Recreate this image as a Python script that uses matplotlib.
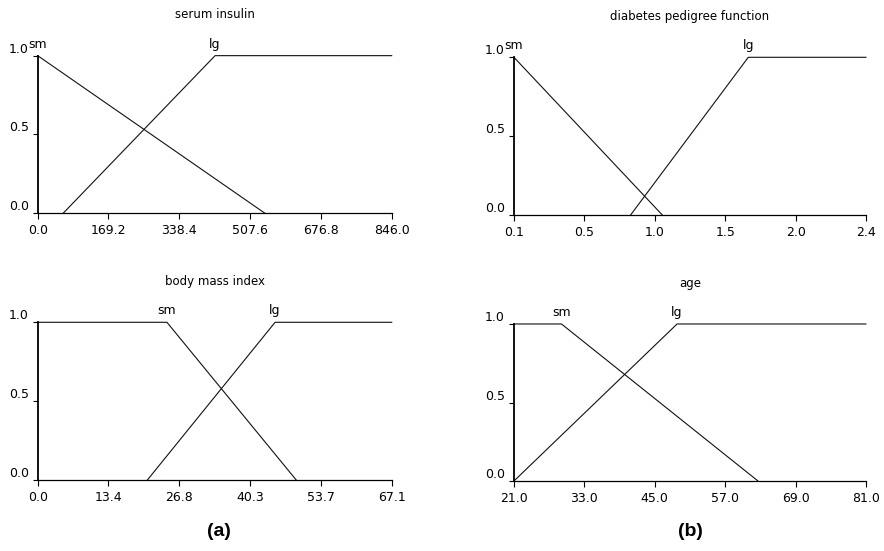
import matplotlib
matplotlib.use("Agg")
import matplotlib.pyplot as plt
import numpy as np

plt.rcParams['font.family'] = ['DejaVu Sans']

# membership functions
insulin_ticks = ["0.0", "169.2", "338.4", "507.6", "676.8", "846.0"]
insulin_sm_x = [0, 543]
insulin_sm_y = [1, 0]
insulin_lg_x = [61, 424, 846]
insulin_lg_y = [0, 1, 1]

dpf_ticks = ["0.1", "0.5", "1.0", "1.5", "2.0", "2.4"]
dpf_sm_x = [0.078, 1.065]
dpf_sm_y = [1, 0]
dpf_lg_x = [0.854, 1.637, 2.42]
dpf_lg_y = [0, 1, 1]

bmi_ticks = ["0.0", "13.4", "26.8", "40.3", "53.7", "67.1"]
bmi_sm_x = [0, 24.5, 49.0]
bmi_sm_y = [1, 1, 0]
bmi_lg_x = [20.8, 45.0, 67.1]
bmi_lg_y = [0, 1, 1]

age_ticks = ["21.0", "33.0", "45.0", "57.0", "69.0", "81.0"]
age_sm_x = [21, 29.1, 62.6]
age_sm_y = [1, 1, 0]
age_lg_x = [21, 48.8, 81]
age_lg_y = [0, 1, 1]

y_ticks = ["0.0", "0.5", "1.0"]


def panel(rect, title, lo, hi, ticks, sm_x, sm_y, lg_x, lg_y):
    ax = fig.add_axes(rect)
    ax.plot(sm_x, sm_y, color='#111111', lw=0.8, clip_on=False)
    ax.plot(lg_x, lg_y, color='#111111', lw=0.8, clip_on=False)
    ax.set_xlim(lo, hi)
    ax.set_ylim(0, 1)
    ax.set_xticks(np.linspace(lo, hi, len(ticks)))
    ax.set_xticklabels(ticks)
    ax.set_yticks([0, 0.5, 1])
    ax.set_yticklabels(y_ticks)
    for lbl in ax.get_yticklabels():
        lbl.set_va('bottom')
    ax.tick_params(axis='x', length=4.5, width=0.8, pad=3.5, labelsize=9)
    ax.tick_params(axis='y', length=3.5, width=0.8, pad=3, labelsize=9)
    ax.spines['top'].set_visible(False)
    ax.spines['right'].set_visible(False)
    ax.spines['left'].set_linewidth(1.3)
    ax.spines['bottom'].set_linewidth(0.9)
    ax.text(0.5, 1.26, title, transform=ax.transAxes, ha='center', va='center',
            fontsize=8.5)
    # labels sit over the point where each function reaches 1
    sm_peak = sm_x[1] if len(sm_x) == 3 else sm_x[0]
    ax.annotate("sm", (sm_peak, 1), xytext=(0, 3.5), textcoords='offset points',
                ha='center', va='bottom', fontsize=9)
    ax.annotate("lg", (lg_x[1], 1), xytext=(0, 3.5), textcoords='offset points',
                ha='center', va='bottom', fontsize=9)
    return ax


fig = plt.figure(figsize=(8.84, 5.51), dpi=100)

panel([0.0426, 0.613, 0.4005, 0.286], "serum insulin", 0, 846, insulin_ticks,
      insulin_sm_x, insulin_sm_y, insulin_lg_x, insulin_lg_y)
panel([0.5814, 0.6098, 0.3982, 0.2862], "diabetes pedigree function", 0.078, 2.42,
      dpf_ticks, dpf_sm_x, dpf_sm_y, dpf_lg_x, dpf_lg_y)
panel([0.0426, 0.1289, 0.4005, 0.2862], "body mass index", 0, 67.1, bmi_ticks,
      bmi_sm_x, bmi_sm_y, bmi_lg_x, bmi_lg_y)
panel([0.5814, 0.127, 0.3982, 0.285], "age", 21, 81, age_ticks,
      age_sm_x, age_sm_y, age_lg_x, age_lg_y)

fig.text(0.248, 0.036, "(a)", ha='center', va='center', fontsize=14,
         fontweight='bold', family='Liberation Sans')
fig.text(0.781, 0.036, "(b)", ha='center', va='center', fontsize=14,
         fontweight='bold', family='Liberation Sans')

fig.savefig("out.png", dpi=100)
